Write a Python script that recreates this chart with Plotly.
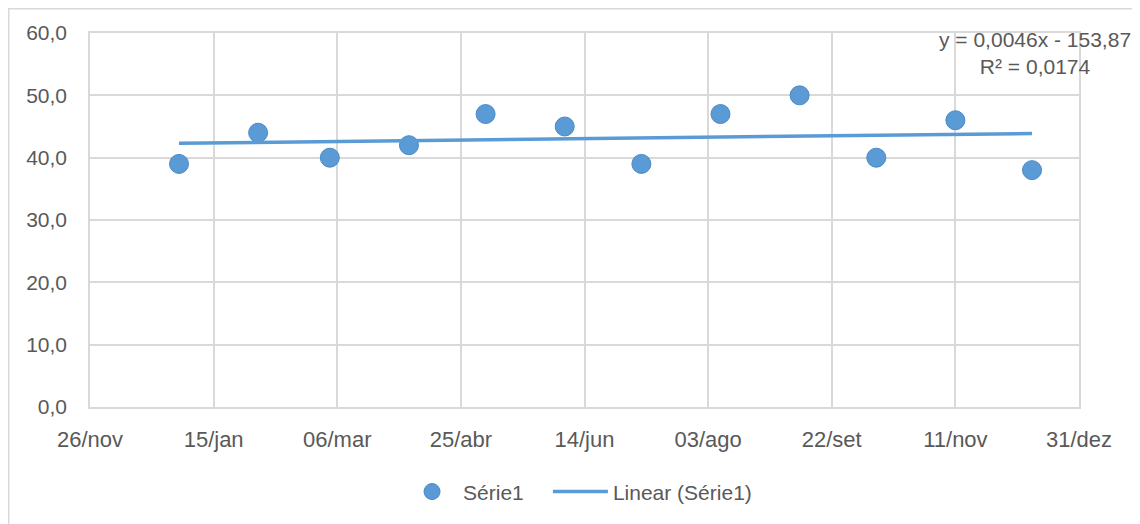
import numpy as np
import pandas as pd
import plotly.graph_objects as go

# ---- data ----
dates = ["2017-01-01", "2017-02-02", "2017-03-03", "2017-04-04", "2017-05-05", "2017-06-06",
         "2017-07-07", "2017-08-08", "2017-09-09", "2017-10-10", "2017-11-11", "2017-12-12"]
values = [39, 44, 40, 42, 47, 45, 39, 47, 50, 40, 46, 38]
series_name = "Série1"
trend_name = "Linear (Série1)"

tick_dates = ["2016-11-26", "2017-01-15", "2017-03-06", "2017-04-25", "2017-06-14",
              "2017-08-03", "2017-09-22", "2017-11-11", "2017-12-31"]
tick_labels = ["26/nov", "15/jan", "06/mar", "25/abr", "14/jun", "03/ago", "22/set", "11/nov", "31/dez"]
y_ticks = [0, 10, 20, 30, 40, 50, 60]

# ---- linear trend (Excel serial date as x) ----
d = pd.to_datetime(dates)
xs = np.array([(t - pd.Timestamp("1899-12-30")).days for t in d], dtype=float)
ys = np.array(values, dtype=float)
slope, intercept = np.polyfit(xs, ys, 1)
pred = slope * xs + intercept
r2 = 1 - np.sum((ys - pred) ** 2) / np.sum((ys - ys.mean()) ** 2)
trend_x = [dates[0], dates[-1]]
trend_y = [slope * xs[0] + intercept, slope * xs[-1] + intercept]

def fmt(v, n):
    return f"{v:.{n}f}".replace(".", ",")

sign = "-" if intercept < 0 else "+"
eq_text = f"y = {fmt(slope, 4)}x {sign} {fmt(abs(intercept), 2)}<br>R² = {fmt(r2, 4)}"

BLUE = "#5B9BD5"
GRID = "#D9D9D9"
TXT = "#595959"
FONT = "Liberation Sans, Arial, sans-serif"

fig = go.Figure()
fig.add_trace(go.Scatter(
    x=dates, y=values, mode="markers", name=series_name, legend="legend",
    marker=dict(size=19, color=BLUE, line=dict(width=1, color="#4A8AC4")),
))
fig.add_trace(go.Scatter(
    x=trend_x, y=trend_y, mode="lines", name=trend_name, legend="legend2",
    line=dict(color=BLUE, width=3.5),
))

leg_common = dict(orientation="h", xanchor="left", y=-0.227, yanchor="middle",
                  font=dict(family=FONT, size=21, color=TXT), bgcolor="rgba(0,0,0,0)")

# page body has an 8px margin, so the figure is 8px smaller and margins shifted
fig.update_layout(
    width=1132, height=516,
    margin=dict(l=82, r=61, t=25, b=117, autoexpand=False),
    paper_bgcolor="white", plot_bgcolor="white",
    separators=",.",
    font=dict(family=FONT, size=21, color=TXT),
    showlegend=True,
    legend=dict(x=0.3145, itemwidth=52, **leg_common),
    legend2=dict(x=0.463, itemwidth=55, **leg_common),
    xaxis=dict(
        type="date", range=[tick_dates[0], tick_dates[-1]],
        tickmode="array", tickvals=tick_dates, ticktext=tick_labels,
        showgrid=True, gridcolor=GRID, gridwidth=1.5,
        showline=True, linecolor=GRID, linewidth=1.5, mirror=True,
        ticks="", ticklabelstandoff=12, automargin=False,
        tickfont=dict(family=FONT, size=22, color=TXT),
        zeroline=False,
    ),
    yaxis=dict(
        range=[0, 60], tickvals=y_ticks, tickformat=".1f",
        showgrid=True, gridcolor=GRID, gridwidth=1.5,
        showline=True, linecolor=GRID, linewidth=1.5, mirror=True,
        ticks="", ticklabelstandoff=17, automargin=False,
        tickfont=dict(family=FONT, size=21, color=TXT),
        zeroline=False,
    ),
    annotations=[dict(
        text=eq_text, xref="paper", yref="paper", x=0.956, y=0.9465,
        xanchor="center", yanchor="middle", align="center", showarrow=False,
        font=dict(family=FONT, size=21, color=TXT),
    )],
    shapes=[dict(
        type="rect", xref="paper", yref="paper", x0=-0.0822, x1=1.08, y0=-0.35, y1=1.0648,
        line=dict(color=GRID, width=1.5), fillcolor="rgba(0,0,0,0)", layer="below",
    )],
)

fig.write_html("out.html")
